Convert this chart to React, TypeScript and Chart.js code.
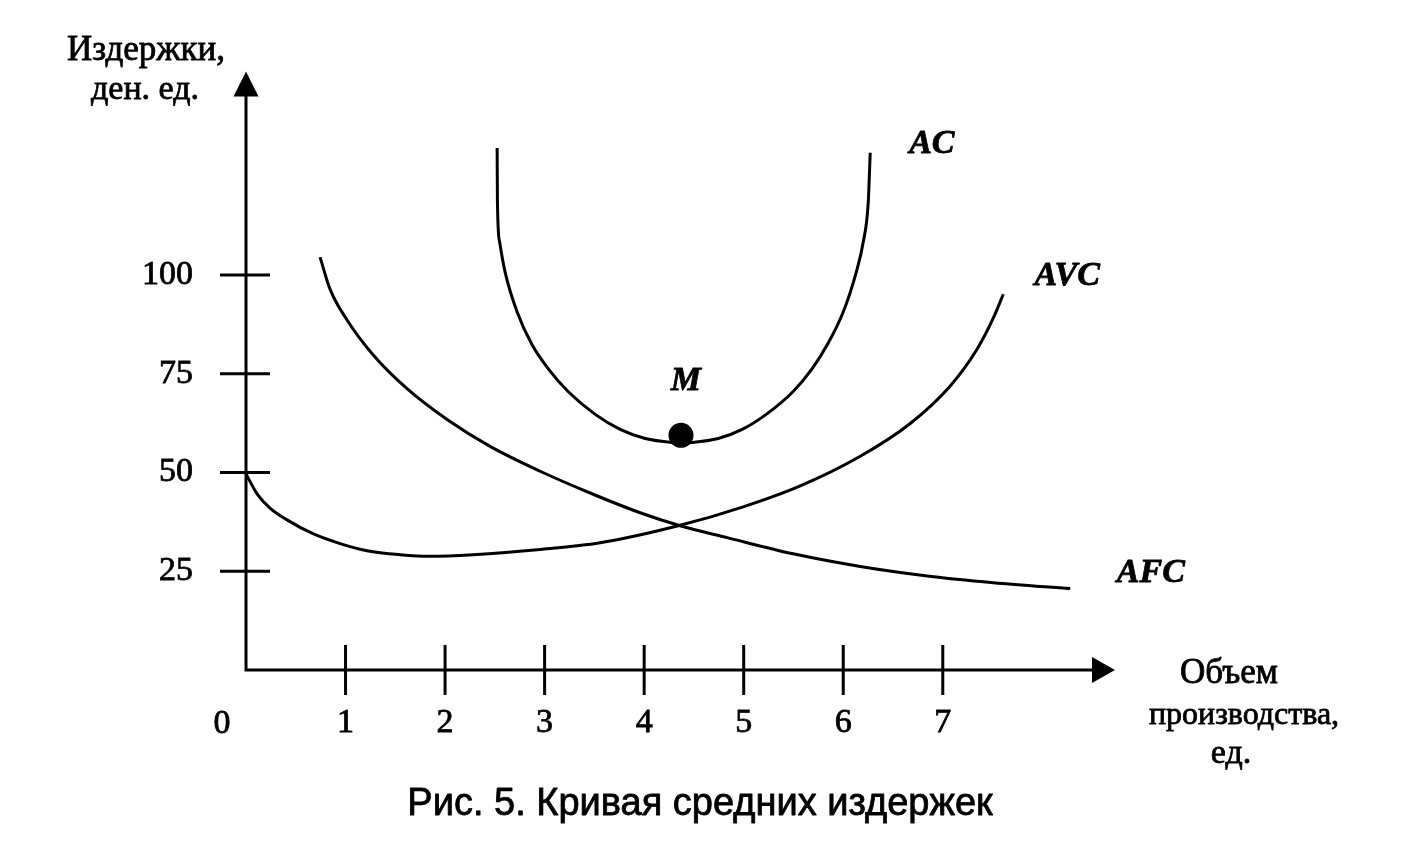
import React, { useEffect, useRef } from 'react';
import { Chart, registerables } from 'chart.js';

Chart.register(...registerables);

// ---- data ----
const xTicks = [1, 2, 3, 4, 5, 6, 7];
const yTicks = [25, 50, 75, 100];
const xMax = 8.7;
const yMax = 151;

const acX = [2.523, 2.526, 2.548, 2.603, 2.724, 2.874, 3.035, 3.236, 3.508, 3.759, 4.01, 4.281, 4.382, 4.482, 4.744, 4.985, 5.226, 5.497, 5.688, 5.839, 6.0, 6.131, 6.201, 6.251, 6.271];
const acY = [132.1, 118.3, 108.3, 100.7, 90.6, 82.3, 76.3, 70.5, 64.7, 60.9, 58.6, 57.6, 57.5, 57.6, 58.6, 60.9, 64.7, 70.5, 76.3, 82.3, 90.6, 100.7, 108.3, 118.3, 130.9];

const avcX = [0, 0.111, 0.241, 0.412, 0.673, 0.945, 1.216, 1.548, 1.849, 2.281, 2.955, 3.558, 4.342, 4.995, 5.568, 6.171, 6.673, 7.075, 7.347, 7.508, 7.608];
const avcY = [49.6, 44.6, 41.0, 38.0, 34.5, 32.0, 30.2, 29.2, 28.8, 29.2, 30.5, 32.2, 36.5, 41.3, 46.6, 54.1, 62.4, 71.9, 81.3, 89.1, 95.1];

const afcX = [0.744, 0.844, 1.015, 1.276, 1.618, 2.02, 2.452, 2.955, 3.457, 3.96, 4.362, 4.834, 5.497, 6.171, 6.844, 7.508, 8.281];
const afcY = [104.5, 96.4, 88.6, 79.8, 71.2, 63.4, 56.6, 50.3, 44.8, 39.8, 36.5, 33.5, 29.4, 26.2, 23.8, 22.1, 20.6];

const pointM = { x: 4.37, y: 59.4 };

const curveLabels = ['AC', 'AVC', 'AFC', 'M'];
const curveLabelX = [6.89, 8.25, 9.09, 4.42];
const curveLabelY = [133.1, 99.7, 24.4, 73.0];

const yTitle = ['Издержки,', 'ден. ед.'];
const xTitle = ['Объем', 'производства,', 'ед.'];
const caption = 'Рис. 5. Кривая средних издержек';
const originLabel = '0';

const SERIF = '"Liberation Serif", "Times New Roman", serif';
const SANS = '"Liberation Sans", Arial, sans-serif';

const toPoints = (xs: number[], ys: number[]) => xs.map((x, i) => ({ x, y: ys[i] }));

const drawText = (ctx: CanvasRenderingContext2D, s: string, x: number, y: number) => {
  ctx.fillText(s, x, y);
  ctx.strokeText(s, x, y);
};

const decorPlugin = {
  id: 'decor',
  afterDraw(chart: any) {
    const { ctx, chartArea: ca, scales } = chart;
    const xs = scales.x;
    const ys = scales.y;
    const x0 = xs.getPixelForValue(0);
    const y0 = ys.getPixelForValue(0);
    ctx.save();
    ctx.strokeStyle = '#000';
    ctx.fillStyle = '#000';
    ctx.lineCap = 'butt';

    // axis lines
    ctx.lineWidth = 3;
    ctx.beginPath();
    ctx.moveTo(x0, ca.top + 10);
    ctx.lineTo(x0, y0 + 1.5);
    ctx.moveTo(x0 - 1.5, y0);
    ctx.lineTo(ca.right - 10, y0);
    ctx.stroke();

    // arrows
    ctx.beginPath();
    ctx.moveTo(x0, ca.top - 2);
    ctx.lineTo(x0 - 12.5, ca.top + 23);
    ctx.lineTo(x0 + 12.5, ca.top + 23);
    ctx.closePath();
    ctx.fill();
    ctx.beginPath();
    ctx.moveTo(ca.right + 3, y0);
    ctx.lineTo(ca.right - 20, y0 - 13);
    ctx.lineTo(ca.right - 20, y0 + 13);
    ctx.closePath();
    ctx.fill();

    // crossing tick marks
    ctx.lineWidth = 3;
    ctx.beginPath();
    ys.ticks.forEach((t: any) => {
      const py = ys.getPixelForValue(t.value);
      ctx.moveTo(x0 - 26, py);
      ctx.lineTo(x0 + 24, py);
    });
    xs.ticks.forEach((t: any) => {
      const px = xs.getPixelForValue(t.value);
      ctx.moveTo(px, y0 - 25);
      ctx.lineTo(px, y0 + 25);
    });
    ctx.stroke();

    ctx.lineWidth = 0.8;
    ctx.lineJoin = 'round';

    // origin label
    ctx.font = `34px ${SERIF}`;
    ctx.textAlign = 'center';
    ctx.textBaseline = 'middle';
    drawText(ctx, originLabel, x0 - 24, y0 + 54);

    // curve labels
    ctx.font = `italic bold 34px ${SERIF}`;
    curveLabels.forEach((s, i) => {
      drawText(ctx, s, xs.getPixelForValue(curveLabelX[i]), ys.getPixelForValue(curveLabelY[i]));
    });

    // axis titles
    ctx.textBaseline = 'alphabetic';
    ctx.font = `35px ${SERIF}`;
    drawText(ctx, yTitle[0], x0 - 100, ca.top - 13);
    ctx.font = `34px ${SERIF}`;
    drawText(ctx, yTitle[1], x0 - 101, ca.top + 26);
    ctx.font = `35px ${SERIF}`;
    drawText(ctx, xTitle[0], ca.right + 117, y0 + 13);
    ctx.font = `32px ${SERIF}`;
    drawText(ctx, xTitle[1], ca.right + 132, y0 + 54);
    ctx.font = `34px ${SERIF}`;
    drawText(ctx, xTitle[2], ca.right + 119, y0 + 93);

    // caption
    ctx.font = `38px ${SANS}`;
    drawText(ctx, caption, 700, 815);
    ctx.restore();
  },
};

export default function App() {
  const ref = useRef<HTMLCanvasElement | null>(null);

  useEffect(() => {
    if (!ref.current) return;
    const lineStyle = {
      borderColor: '#000',
      borderWidth: 3,
      pointRadius: 0,
      cubicInterpolationMode: 'monotone' as const,
      fill: false,
      clip: false as any,
    };
    const chart = new Chart(ref.current, {
      type: 'line',
      data: {
        datasets: [
          { label: 'AC', data: toPoints(acX, acY), ...lineStyle },
          { label: 'AVC', data: toPoints(avcX, avcY), ...lineStyle },
          { label: 'AFC', data: toPoints(afcX, afcY), ...lineStyle },
          {
            label: 'M',
            data: [pointM],
            showLine: false,
            pointRadius: 12.5,
            pointBackgroundColor: '#000',
            pointBorderColor: '#000',
            pointBorderWidth: 0,
            clip: false as any,
          },
        ],
      },
      options: {
        responsive: false,
        animation: false,
        events: [],
        layout: { padding: { left: 0, top: 70, right: 295, bottom: 0 } },
        plugins: { legend: { display: false }, tooltip: { enabled: false } },
        scales: {
          x: {
            type: 'linear',
            min: 0,
            max: xMax,
            afterBuildTicks: (s: any) => {
              s.ticks = xTicks.map((v) => ({ value: v }));
            },
            afterFit: (s: any) => {
              s.height = 183;
            },
            grid: { display: false, drawTicks: false },
            border: { display: false },
            ticks: {
              color: '#000',
              textStrokeColor: '#000',
              textStrokeWidth: 0.8,
              font: { family: SERIF, size: 34, lineHeight: 1.2 },
              padding: 33,
              autoSkip: false,
              maxRotation: 0,
              minRotation: 0,
            },
          },
          y: {
            type: 'linear',
            min: 0,
            max: yMax,
            afterBuildTicks: (s: any) => {
              s.ticks = yTicks.map((v) => ({ value: v }));
            },
            afterFit: (s: any) => {
              s.width = 246;
            },
            grid: { display: false, drawTicks: false },
            border: { display: false },
            ticks: {
              color: '#000',
              textStrokeColor: '#000',
              textStrokeWidth: 0.8,
              font: { family: SERIF, size: 34 },
              padding: 53,
              autoSkip: false,
            },
          },
        },
      },
      plugins: [decorPlugin],
    });
    return () => chart.destroy();
  }, []);

  return (
    <div style={{ position: 'fixed', left: 0, top: 0, width: 1407, height: 853, background: '#fff' }}>
      <canvas ref={ref} width={1407} height={853} style={{ display: 'block' }} />
    </div>
  );
}
